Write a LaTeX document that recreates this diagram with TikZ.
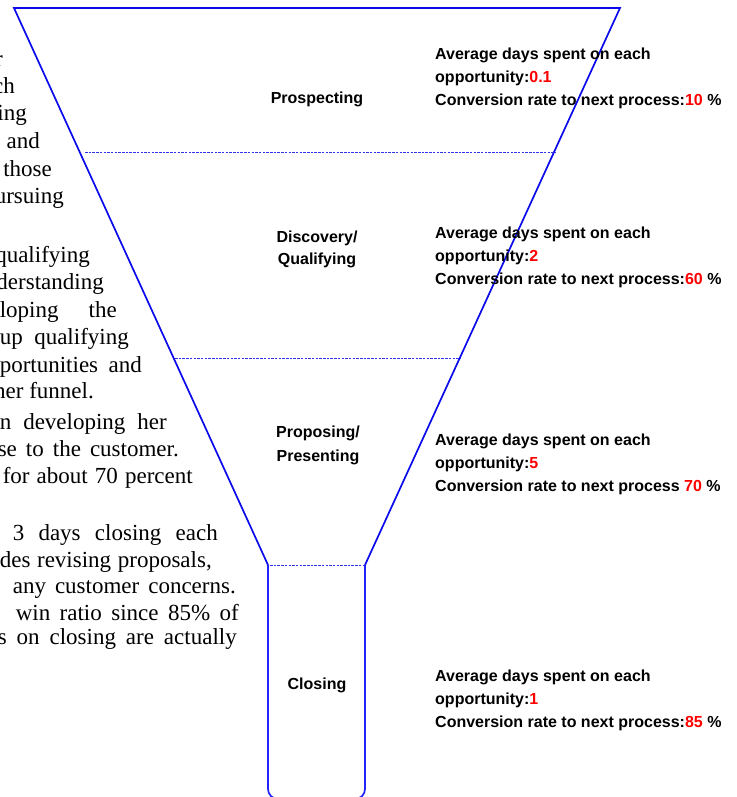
\documentclass[tikz,border=0pt]{standalone}
\usepackage{fontspec}
\setmainfont{Liberation Serif}
\newfontfamily\labelfont{Liberation Sans}
\definecolor{funnelblue}{RGB}{10,10,235}
\definecolor{stemblue}{RGB}{35,35,255}
\definecolor{sepblue}{RGB}{50,50,230}
\definecolor{numred}{RGB}{255,0,0}

\begin{document}
\begin{tikzpicture}[x=1pt,y=-1pt,
  bodytext/.style={inner sep=0pt,anchor=base east,font=\fontsize{23}{27}\selectfont},
  stage/.style={inner sep=0pt,anchor=base,font=\labelfont\bfseries\fontsize{16}{22}\selectfont},
  info/.style={inner sep=0pt,anchor=base west,font=\labelfont\bfseries\fontsize{16}{23}\selectfont},
  outline/.style={line width=1.7pt,color=funnelblue,line join=miter},
  stemline/.style={line width=1.7pt,color=stemblue,rounded corners=10pt},
  divider/.style={line width=0.9pt,color=sepblue,dash pattern=on 2.5pt off 1.2pt}]
\useasboundingbox (0,0) rectangle (736,797);

% body text wrapped along the funnel's left side
\node[bodytext] (t01) at (3,67)    {r};
\node[bodytext] (t02) at (15,94)   {ch};
\node[bodytext] (t03) at (27,121)  {ing};
\node[bodytext] (t04) at (40,148)  {and};
\node[bodytext] (t05) at (52,176)  {those};
\node[bodytext] (t06) at (64,203)  {ursuing};
\node[bodytext] (t07) at (90,262)  {qualifying};
\node[bodytext] (t08) at (104,289) {derstanding};
\node[bodytext] (t09) at (117,317) {\makebox[117pt][s]{loping the}};
\node[bodytext] (t10) at (129,344) {\makebox[129pt][s]{up qualifying}};
\node[bodytext] (t11) at (142,372) {\makebox[142pt][s]{portunities and}};
\node[bodytext] (t12) at (94,398)  {her funnel.};
\node[bodytext] (t13) at (167,429) {\makebox[167pt][s]{n developing her}};
\node[bodytext] (t14) at (179,456) {\makebox[181pt][s]{se to the customer.}};
\node[bodytext] (t15) at (193,483) {\makebox[190pt][s]{for about 70 percent}};
\node[bodytext] (t16) at (218,540) {\makebox[205pt][s]{3 days closing each}};
\node[bodytext] (t17) at (212,567) {\makebox[212pt][s]{des revising proposals,}};
\node[bodytext] (t18) at (236,593) {\makebox[223pt][s]{any customer concerns.}};
\node[bodytext] (t19) at (239,620) {\makebox[223pt][s]{win ratio since 85\% of}};
\node[bodytext] (t20) at (237,644) {\makebox[239pt][s]{s on closing are actually}};

% funnel outline points
\coordinate (tl) at (14,8);
\coordinate (tr) at (620,8);
\coordinate (sl) at (268,565);
\coordinate (sr) at (365,565);
\coordinate (bl) at (268,799);
\coordinate (br) at (365,799);

% funnel body
\fill[white] (tl) -- (tr) -- (sr) -- (br) -- (bl) -- (sl) -- cycle;
\draw[outline] (sl) -- (tl) -- (tr) -- (sr);
\draw[stemline] (sl) -- (bl) -- (br) -- (sr);

% stage dividers
\coordinate (d1a) at (85,152);  \coordinate (d1b) at (555,152);
\coordinate (d2a) at (175,358); \coordinate (d2b) at (460,358);
\coordinate (d3a) at (270,565); \coordinate (d3b) at (363,565);
\draw[divider] (d1a) -- (d1b);
\draw[divider] (d2a) -- (d2b);
\draw[divider] (d3a) -- (d3b);

% stage names
\node[stage] (s1)  at (317,103) {Prospecting};
\node[stage] (s2a) at (317,242) {Discovery/};
\node[stage] (s2b) at (317,264) {Qualifying};
\node[stage] (s3a) at (318,437) {Proposing/};
\node[stage] (s3b) at (318,461) {Presenting};
\node[stage] (s4)  at (317,689) {Closing};

% stage figures
\node[info] (i1a) at (435,60)  {Average days spent on each};
\node[info] (i1b) at (435,83)  {opportunity:\textcolor{numred}{0.1}};
\node[info] (i1c) at (435,106) {Conversion rate to next process:\textcolor{numred}{10} \%};

\node[info] (i2a) at (435,238) {Average days spent on each};
\node[info] (i2b) at (435,261) {opportunity:\textcolor{numred}{2}};
\node[info] (i2c) at (435,284) {Conversion rate to next process:\textcolor{numred}{60} \%};

\node[info] (i3a) at (435,445) {Average days spent on each};
\node[info] (i3b) at (435,468) {opportunity:\textcolor{numred}{5}};
\node[info] (i3c) at (435,491) {Conversion rate to next process \textcolor{numred}{70} \%};

\node[info] (i4a) at (435,681) {Average days spent on each};
\node[info] (i4b) at (435,704) {opportunity:\textcolor{numred}{1}};
\node[info] (i4c) at (435,727) {Conversion rate to next process:\textcolor{numred}{85} \%};
\end{tikzpicture}
\end{document}
